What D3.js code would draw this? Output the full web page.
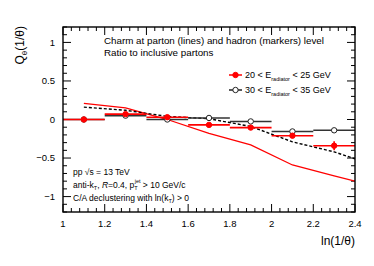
<!DOCTYPE html>
<html>
<head>
<meta charset="utf-8">
<script src="https://cdn.jsdelivr.net/npm/d3@7"></script>
<style>
  body { margin: 0; background: #fff; }
  text { font-family: "Liberation Sans", Arial, sans-serif; fill: #000; }
</style>
</head>
<body>
<div id="vis"></div>
<script>
// bins and values
const xEdges = [1.0, 1.2, 1.4, 1.6, 1.8, 2.0, 2.2, 2.4];
const xCenters = [1.1, 1.3, 1.5, 1.7, 1.9, 2.1, 2.3];
const hadron20 = [0.0, 0.07, 0.03, -0.07, -0.105, -0.21, -0.34];
const hadron20Err = [0.01, 0.01, 0.01, 0.01, 0.015, 0.02, 0.058];
const hadron30 = [0.0, 0.05, 0.0, 0.02, -0.025, -0.155, -0.14];
const hadron30Err = [0.005, 0.005, 0.005, 0.008, 0.01, 0.012, 0.015];
const partonX = [1.1, 1.3, 1.5, 1.7, 1.9, 2.1, 2.3, 2.4];
const parton20 = [0.21, 0.15, 0.0, -0.18, -0.33, -0.59, -0.73, -0.80];
const parton30 = [0.16, 0.12, 0.04, 0.01, -0.09, -0.29, -0.42, -0.51];
const xTicks = [1, 1.2, 1.4, 1.6, 1.8, 2, 2.2, 2.4];
const yTicks = [-1, -0.5, 0, 0.5, 1];

const width = 374, height = 266;
const fLeft = 63, fRight = 355, fTop = 27, fBottom = 212;

const svg = d3.select('#vis').append('svg')
  .attr('width', width)
  .attr('height', height);

const x = d3.scaleLinear().domain([1, 2.4]).range([fLeft, fRight]);
const y = d3.scaleLinear().domain([-1.2, 1.2]).range([fBottom, fTop]);

svg.append('clipPath').attr('id', 'clip')
  .append('rect')
    .attr('x', fLeft).attr('y', fTop)
    .attr('width', fRight - fLeft).attr('height', fBottom - fTop);

// ticks (ROOT style, inside the frame on all four sides)
const tk = svg.append('g').attr('stroke', '#000').attr('stroke-width', 1);
const xMinor = d3.range(1, 2.4001, 0.04);
const yMinor = d3.range(-1.2, 1.2001, 0.1);
xMinor.forEach(v => {
  const major = xTicks.some(t => Math.abs(t - v) < 1e-6);
  const len = major ? 8 : 4;
  tk.append('line').attr('x1', x(v)).attr('x2', x(v)).attr('y1', fBottom).attr('y2', fBottom - len);
  tk.append('line').attr('x1', x(v)).attr('x2', x(v)).attr('y1', fTop).attr('y2', fTop + len);
});
yMinor.forEach(v => {
  const major = yTicks.some(t => Math.abs(t - v) < 1e-6);
  const len = major ? 8 : 4;
  tk.append('line').attr('y1', y(v)).attr('y2', y(v)).attr('x1', fLeft).attr('x2', fLeft + len);
  tk.append('line').attr('y1', y(v)).attr('y2', y(v)).attr('x1', fRight).attr('x2', fRight - len);
});

// tick labels
const fmt = v => (v < 0 ? '\u2212' : '') + Math.abs(v);
svg.append('g').selectAll('text')
  .data(xTicks)
  .join('text')
    .attr('x', d => x(d))
    .attr('y', 226.5)
    .attr('text-anchor', 'middle')
    .style('font-size', '9.5px')
    .text(d => fmt(d));
svg.append('g').selectAll('text')
  .data(yTicks)
  .join('text')
    .attr('x', 55)
    .attr('y', d => y(d) + 3.4)
    .attr('text-anchor', 'end')
    .style('font-size', '9.5px')
    .text(d => fmt(d));

// axis titles
svg.append('text')
  .attr('x', 355).attr('y', 245)
  .attr('text-anchor', 'end')
  .style('font-size', '12px')
  .text('ln(1/\u03b8)');

const yt = svg.append('text')
  .attr('transform', 'translate(24,26) rotate(-90)')
  .attr('text-anchor', 'end')
  .style('font-size', '12px');
yt.append('tspan').text('Q');
yt.append('tspan').attr('dy', 3).style('font-size', '8px').text('\u03b8');
yt.append('tspan').attr('dy', -3).text('(1/\u03b8)');

const plot = svg.append('g').attr('clip-path', 'url(#clip)');

// parton level lines
const line = d3.line().x(d => x(d[0])).y(d => y(d[1]));
plot.append('path')
  .datum(partonX.map((v, i) => [v, parton20[i]]))
  .attr('d', line)
  .attr('fill', 'none')
  .attr('stroke', '#ff0000')
  .attr('stroke-width', 1.3);
plot.append('path')
  .datum(partonX.map((v, i) => [v, parton30[i]]))
  .attr('d', line)
  .attr('fill', 'none')
  .attr('stroke', '#000')
  .attr('stroke-width', 1.4)
  .attr('stroke-dasharray', '3,2');

// hadron level markers
function drawSeries(vals, errs, col, barCol, filled) {
  const g = plot.append('g');
  vals.forEach((v, i) => {
    g.append('line')
      .attr('x1', x(xEdges[i])).attr('x2', x(xEdges[i + 1]))
      .attr('y1', y(v)).attr('y2', y(v))
      .attr('stroke', barCol).attr('stroke-width', 1.6);
    g.append('line')
      .attr('x1', x(xCenters[i])).attr('x2', x(xCenters[i]))
      .attr('y1', y(v - errs[i])).attr('y2', y(v + errs[i]))
      .attr('stroke', barCol).attr('stroke-width', 1.6);
    g.append('circle')
      .attr('cx', x(xCenters[i])).attr('cy', y(v))
      .attr('r', 2.7)
      .attr('fill', filled ? col : '#fff')
      .attr('stroke', col).attr('stroke-width', 1);
  });
}
drawSeries(hadron30, hadron30Err, '#222', '#333', false);
drawSeries(hadron20, hadron20Err, '#ff0000', '#ff0000', true);

// frame
svg.append('rect')
  .attr('x', fLeft).attr('y', fTop)
  .attr('width', fRight - fLeft).attr('height', fBottom - fTop)
  .attr('fill', 'none')
  .attr('stroke', '#000')
  .attr('stroke-width', 1.4);

// header text
svg.append('text').attr('x', 104).attr('y', 43.5).style('font-size', '9.8px')
  .text('Charm at parton (lines) and hadron (markers) level');
svg.append('text').attr('x', 104).attr('y', 56).style('font-size', '9.8px')
  .text('Ratio to inclusive partons');

// legend
const legend = [
  { label: '20', hi: '25', col: '#ff0000', filled: true },
  { label: '30', hi: '35', col: '#222', filled: false }
];
legend.forEach((d, i) => {
  const ly = 75 + i * 15;
  svg.append('line').attr('x1', 229).attr('x2', 242).attr('y1', ly).attr('y2', ly)
    .attr('stroke', d.col).attr('stroke-width', 1.5);
  svg.append('circle').attr('cx', 235.5).attr('cy', ly).attr('r', 2.7)
    .attr('fill', d.filled ? d.col : '#fff').attr('stroke', d.col);
  const t = svg.append('text').attr('x', 245).attr('y', ly + 3.2).style('font-size', '9px');
  t.append('tspan').text(d.label + ' < E');
  t.append('tspan').attr('dy', 2.5).style('font-size', '5.5px').text('radiator');
  t.append('tspan').attr('dy', -2.5).text(' < ' + d.hi + ' GeV');
});

// bottom-left annotations
svg.append('text').attr('x', 73).attr('y', 175).style('font-size', '8.5px')
  .text('pp \u221as = 13 TeV');
const a2 = svg.append('text').attr('x', 73).attr('y', 188).style('font-size', '8.5px');
a2.append('tspan').text('anti-k');
a2.append('tspan').attr('dy', 2).style('font-size', '5.5px').text('T');
a2.append('tspan').attr('dy', -2).text(', ');
a2.append('tspan').style('font-style', 'italic').text('R');
a2.append('tspan').text('=0.4, p');
a2.append('tspan').attr('dy', 2).style('font-size', '5.5px').text('T');
a2.append('tspan').attr('dx', -3).attr('dy', -7).style('font-size', '5.5px').text('jet');
a2.append('tspan').attr('dy', 5).text(' > 10 GeV/c');
const a3 = svg.append('text').attr('x', 73).attr('y', 201).style('font-size', '8.5px');
a3.append('tspan').text('C/A declustering with ln(k');
a3.append('tspan').attr('dy', 2).style('font-size', '5.5px').text('T');
a3.append('tspan').attr('dy', -2).text(') > 0');
</script>
</body>
</html>
